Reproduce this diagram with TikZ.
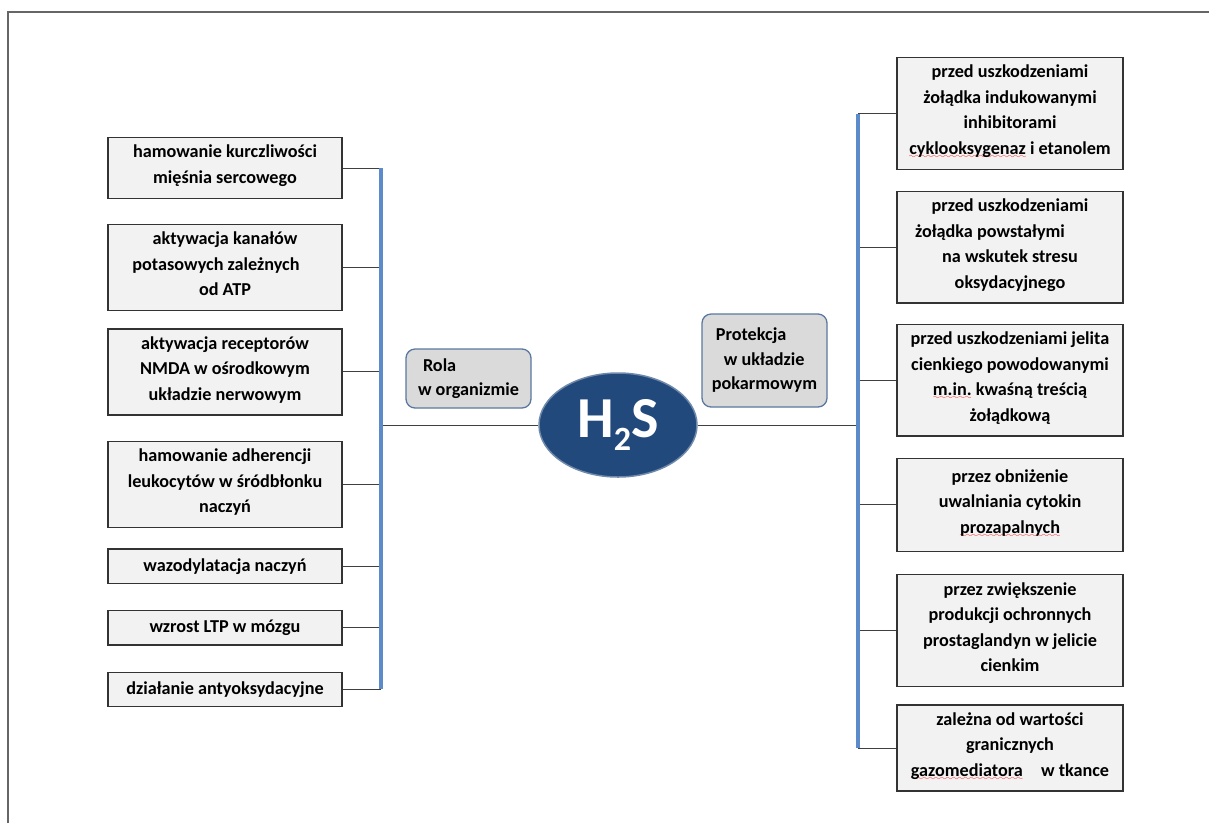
\documentclass[tikz,border=0pt]{standalone}
\usepackage{fontspec}
\setmainfont{Carlito}
\usetikzlibrary{positioning, shapes.geometric}

\definecolor{boxfill}{HTML}{F2F2F2}
\definecolor{spineblue}{HTML}{5B8BCB}
\definecolor{h2sblue}{HTML}{22497C}
\definecolor{tagfill}{HTML}{DADADA}
\definecolor{tagdraw}{HTML}{5A78A0}
\font\wavefont=lasy8
\newcommand{\spellerr}[1]{\setbox0=\hbox{#1}\rlap{\raisebox{-4pt}{\textcolor{red}{\hbox to \wd0{\xleaders\hbox{\wavefont\char58}\hfil}}}}\box0{}}

\begin{document}
\begin{tikzpicture}[x=1pt, y=-1pt, node distance=24pt,
    leftbox/.style={draw=black!80, line width=1.4pt, fill=boxfill, minimum width=234pt, align=center, inner xsep=6pt, inner ysep=7.5pt, text depth=7.4pt, font=\bfseries\fontsize{18.2}{25.5}\selectfont, execute at begin node=\strut},
    onebox/.style={leftbox, inner ysep=4.5pt},
    rightbox/.style={leftbox, minimum width=226pt},
    tagbox/.style={draw=tagdraw, line width=1.3pt, fill=tagfill, rounded corners=9pt, minimum width=125pt, align=left, inner sep=0pt, font=\bfseries\fontsize{18.2}{24.5}\selectfont},
    link/.style={draw=black!75, line width=0.9pt},
    spine/.style={draw=spineblue, line width=3.4pt},
    frame/.style={draw=black!60, line width=1.5pt}]
    \useasboundingbox (0,0) rectangle (1209,823);
    \draw[frame] (8,823) -- (8,12) -- (1209,12);

    % Wezel centralny
    \node[ellipse, fill=h2sblue, draw=h2sblue!65!white, line width=1.5pt, minimum width=158pt, minimum height=104pt, inner sep=0pt, text=white, font=\bfseries\fontsize{58}{58}\selectfont] (h2s) at (618,425) {H\raisebox{-13pt}{\fontsize{34}{34}\selectfont 2}S};
    \node[tagbox, minimum height=59pt] (role) at (468.5,378.5) {\hspace*{5pt}Rola\\w organizmie};
    \node[tagbox, minimum height=93pt] (protect) at (764.5,360.5) {\hspace*{4pt}Protekcja\\\hspace*{12pt}w układzie\\pokarmowym};

    % Rola w organizmie
    \node[leftbox] (heart) at (225,168) {hamowanie kurczliwości\\mięśnia sercowego};
    \node[leftbox, below=24.5pt of heart] (katp) {aktywacja kanałów\\potasowych zależnych\rule{18pt}{0pt}\\od ATP};
    \node[leftbox, below=17pt of katp] (nmda) {aktywacja receptorów\\NMDA w ośrodkowym\\układzie nerwowym};
    \node[leftbox, below=25pt of nmda] (leuko) {hamowanie adherencji\\leukocytów w śródbłonku\\naczyń};
    \node[onebox, below=20pt of leuko] (vaso) {wazodylatacja naczyń};
    \node[onebox, below=26pt of vaso] (ltp) {wzrost LTP w mózgu};
    \node[onebox, below=26pt of ltp] (antiox) {działanie antyoksydacyjne};

    % Protekcja w ukladzie pokarmowym
    \node[rightbox] (cox) at (1010,113.5) {przed uszkodzeniami\\żołądka indukowanymi\\inhibitorami\\\spellerr{cyklooksygenaz} i etanolem};
    \node[rightbox, below=20.5pt of cox] (stress) {przed uszkodzeniami\\żołądka powstałymi\rule{40pt}{0pt}\\na wskutek stresu\\oksydacyjnego};
    \node[rightbox, below=20pt of stress] (intest) {przed uszkodzeniami jelita\\cienkiego powodowanymi\\\spellerr{m.in.} kwaśną treścią\\żołądkową};
    \node[rightbox, below=21pt of intest, minimum height=93pt] (cyto) {przez obniżenie\\uwalniania cytokin\\\spellerr{prozapalnych}};
    \node[rightbox, below=22pt of cyto] (prost) {przez zwiększenie\\produkcji ochronnych\\prostaglandyn w jelicie\\cienkim};
    \node[rightbox, below=17pt of prost] (thresh) {zależna od wartości\\granicznych\\\spellerr{gazomediatora}\quad w tkance};

    % Linie
    \coordinate (lspine) at (381,0);
    \coordinate (rspine) at (858,0);
    \draw[link] (heart.east) -- (heart.east -| lspine);
    \draw[link] (katp.east) -- (katp.east -| lspine);
    \draw[link] (nmda.east) -- (nmda.east -| lspine);
    \draw[link] (leuko.east) -- (leuko.east -| lspine);
    \draw[link] (vaso.east) -- (vaso.east -| lspine);
    \draw[link] (ltp.east) -- (ltp.east -| lspine);
    \draw[link] (antiox.east) -- (antiox.east -| lspine);
    \draw[link] (h2s.west) -- (h2s.west -| lspine);
    \draw[link] (h2s.east) -- (h2s.east -| rspine);
    \draw[link] (cox.west) -- (cox.west -| rspine);
    \draw[link] (stress.west) -- (stress.west -| rspine);
    \draw[link] (intest.west) -- (intest.west -| rspine);
    \draw[link] (cyto.west) -- (cyto.west -| rspine);
    \draw[link] (prost.west) -- (prost.west -| rspine);
    \draw[link] (thresh.west) -- (thresh.west -| rspine);
    \draw[spine] (heart.east -| lspine) -- (antiox.east -| lspine);
    \draw[spine] (cox.west -| rspine) -- (thresh.west -| rspine);
\end{tikzpicture}
\end{document}
